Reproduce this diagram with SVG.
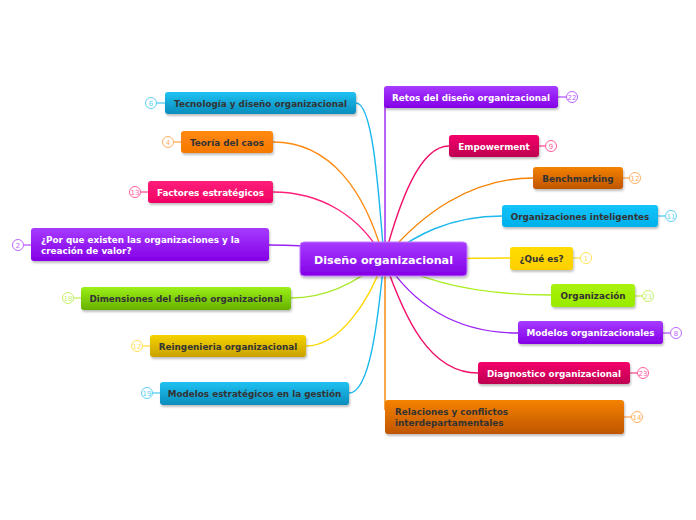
<svg xmlns="http://www.w3.org/2000/svg" width="696" height="520" viewBox="0 0 696 520">
<defs>
<linearGradient id="gPurple" x1="0" y1="0" x2="0" y2="1"><stop offset="0" stop-color="#a63bff"/><stop offset="1" stop-color="#8400e6"/></linearGradient>
<linearGradient id="gCyan" x1="0" y1="0" x2="0" y2="1"><stop offset="0" stop-color="#1fc2f2"/><stop offset="1" stop-color="#0a8cbc"/></linearGradient>
<linearGradient id="gCyan2" x1="0" y1="0" x2="0" y2="1"><stop offset="0" stop-color="#14c4fa"/><stop offset="1" stop-color="#00b0ea"/></linearGradient>
<linearGradient id="gOrange" x1="0" y1="0" x2="0" y2="1"><stop offset="0" stop-color="#ff8a10"/><stop offset="1" stop-color="#f57800"/></linearGradient>
<linearGradient id="gDOrange" x1="0" y1="0" x2="0" y2="1"><stop offset="0" stop-color="#f58200"/><stop offset="1" stop-color="#bf5500"/></linearGradient>
<linearGradient id="gPink" x1="0" y1="0" x2="0" y2="1"><stop offset="0" stop-color="#ff1f7a"/><stop offset="1" stop-color="#f00063"/></linearGradient>
<linearGradient id="gCrimson" x1="0" y1="0" x2="0" y2="1"><stop offset="0" stop-color="#f5006c"/><stop offset="1" stop-color="#bd0050"/></linearGradient>
<linearGradient id="gGreen" x1="0" y1="0" x2="0" y2="1"><stop offset="0" stop-color="#9cf016"/><stop offset="1" stop-color="#66b000"/></linearGradient>
<linearGradient id="gLime" x1="0" y1="0" x2="0" y2="1"><stop offset="0" stop-color="#aaf20a"/><stop offset="1" stop-color="#99ea00"/></linearGradient>
<linearGradient id="gGold" x1="0" y1="0" x2="0" y2="1"><stop offset="0" stop-color="#f5d200"/><stop offset="1" stop-color="#c9a200"/></linearGradient>
<linearGradient id="gYellow" x1="0" y1="0" x2="0" y2="1"><stop offset="0" stop-color="#ffdc00"/><stop offset="1" stop-color="#ffd000"/></linearGradient>
<filter id="sh" x="-10%" y="-30%" width="120%" height="170%"><feDropShadow dx="1" dy="2" stdDeviation="1.2" flood-color="#000" flood-opacity="0.25"/></filter>
</defs>
<style>
text{font-family:"DejaVu Sans","Verdana",sans-serif;font-weight:bold;}
.t{font-size:8.8px;text-anchor:middle;}
.l{font-size:8.8px;}
.d{fill:#333333;}
.w{fill:#ffffff;}
.n rect{filter:url(#sh);}
.c{fill:none;stroke-width:1.4;}
.b{fill:#ffffff;stroke-width:1;}
.bt{font-size:7px;font-weight:normal;text-anchor:middle;}
</style>
<rect width="696" height="520" fill="#ffffff"/>
<g id="connectors">
<path class="c" stroke="#1ab8ee" d="M356,103 C372,103 378,180 384,259"/>
<path class="c" stroke="#ff8a10" d="M273,142 C330,142 365,190 384,259"/>
<path class="c" stroke="#ff1f7a" d="M273,192 C320,192 360,215 384,259"/>
<path class="c" stroke="#9a20f5" d="M269,245 C320,245 340,250 384,259"/>
<path class="c" stroke="#a8e82a" d="M291,298 C330,298 360,280 384,259"/>
<path class="c" stroke="#ffd700" d="M306,346 C340,346 370,300 384,259"/>
<path class="c" stroke="#1ab8ee" d="M349,393 C370,393 378,320 384,259"/>
<path class="c" stroke="#9a20f5" d="M385,97 L385,259"/>
<path class="c" stroke="#f0106a" d="M449,146 C420,146 400,200 384,259"/>
<path class="c" stroke="#f58200" d="M533,178 C470,178 420,215 384,259"/>
<path class="c" stroke="#1ab8ee" d="M502,216 C450,216 415,235 384,259"/>
<path class="c" stroke="#ffd700" d="M510,258 L384,259"/>
<path class="c" stroke="#a8f01a" d="M551,295 C470,295 420,280 384,259"/>
<path class="c" stroke="#9a20f5" d="M518,333 C450,333 410,300 384,259"/>
<path class="c" stroke="#f0106a" d="M478,373 C430,373 405,320 384,259"/>
<path class="c" stroke="#f58200" d="M385,259 L385,410"/>
<path class="c" stroke="#5fd0f5" d="M157,103 H165"/>
<path class="c" stroke="#ffb060" d="M174,142 H181"/>
<path class="c" stroke="#ff5c9c" d="M141,192 H148"/>
<path class="c" stroke="#bb66ff" d="M24,245 H31"/>
<path class="c" stroke="#c6f06a" d="M74,298 H81"/>
<path class="c" stroke="#ffe25a" d="M143,346 H150"/>
<path class="c" stroke="#5fd0f5" d="M153,393 H160"/>
<path class="c" stroke="#bb66ff" d="M558,97 H566"/>
<path class="c" stroke="#ff5c9c" d="M539,146 H545"/>
<path class="c" stroke="#ffb060" d="M623,178 H629"/>
<path class="c" stroke="#5fd0f5" d="M658,216 H665"/>
<path class="c" stroke="#ffe25a" d="M573,258 H580"/>
<path class="c" stroke="#c6f06a" d="M635,296 H642"/>
<path class="c" stroke="#bb66ff" d="M663,333 H670"/>
<path class="c" stroke="#ff5c9c" d="M630,373 H637"/>
<path class="c" stroke="#ffb060" d="M624,417 H631"/>
</g>

<g id="center" class="n">
<rect x="300" y="242" width="167" height="34" rx="4" fill="url(#gPurple)" stroke="#c27bff" stroke-width="1"/>
<text x="383.5" y="263.5" class="w" style="font-size:11.2px;text-anchor:middle">Diseño organizacional</text>
</g>

<g id="n-tecnologia" class="n">
<rect x="165" y="92" width="191" height="22" rx="3" fill="url(#gCyan)"/>
<text x="260.5" y="106.5" class="t d">Tecnología y diseño organizacional</text>
<circle class="b" cx="151" cy="103" r="5.5" stroke="#5fd0f5"/><text x="151" y="105.5" class="bt" fill="#5fd0f5">6</text>
</g>
<g id="n-teoria" class="n">
<rect x="181" y="131" width="92" height="22" rx="3" fill="url(#gOrange)"/>
<text x="227" y="145.5" class="t d">Teoría del caos</text>
<circle class="b" cx="168" cy="142" r="5.5" stroke="#ffb060"/><text x="168" y="144.5" class="bt" fill="#ffb060">4</text>
</g>
<g id="n-factores" class="n">
<rect x="148" y="181" width="125" height="22" rx="3" fill="url(#gPink)"/>
<text x="210.5" y="195.5" class="t w">Factores estratégicos</text>
<circle class="b" cx="135" cy="192" r="5.5" stroke="#ff5c9c"/><text x="135" y="194.5" class="bt" fill="#ff5c9c">13</text>
</g>
<g id="n-porque" class="n">
<rect x="31" y="228" width="238" height="33" rx="3" fill="url(#gPurple)"/>
<text x="41" y="242.5" class="l w">¿Por que existen las organizaciones y la</text>
<text x="41" y="253.5" class="l w">creación de valor?</text>
<circle class="b" cx="18" cy="245" r="5.5" stroke="#bb66ff"/><text x="18" y="247.5" class="bt" fill="#bb66ff">2</text>
</g>
<g id="n-dimensiones" class="n">
<rect x="81" y="287" width="210" height="23" rx="3" fill="url(#gGreen)"/>
<text x="186" y="301.5" class="t d">Dimensiones del diseño organizacional</text>
<circle class="b" cx="68" cy="298" r="5.5" stroke="#c6f06a"/><text x="68" y="300.5" class="bt" fill="#c6f06a">18</text>
</g>
<g id="n-reingenieria" class="n">
<rect x="150" y="335" width="156" height="22" rx="3" fill="url(#gGold)"/>
<text x="228" y="349.5" class="t d">Reingenieria organizacional</text>
<circle class="b" cx="137" cy="346" r="5.5" stroke="#ffe25a"/><text x="137" y="348.5" class="bt" fill="#ffe25a">12</text>
</g>
<g id="n-modelosest" class="n">
<rect x="160" y="382" width="189" height="23" rx="3" fill="url(#gCyan)"/>
<text x="254.5" y="396.5" class="t d">Modelos estratégicos en la gestión</text>
<circle class="b" cx="147" cy="393" r="5.5" stroke="#5fd0f5"/><text x="147" y="395.5" class="bt" fill="#5fd0f5">19</text>
</g>

<g id="n-retos" class="n">
<rect x="384" y="86" width="174" height="22" rx="3" fill="url(#gPurple)"/>
<text x="471" y="100.5" class="t w">Retos del diseño organizacional</text>
<circle class="b" cx="572" cy="97" r="5.5" stroke="#bb66ff"/><text x="572" y="99.5" class="bt" fill="#bb66ff">22</text>
</g>
<g id="n-empowerment" class="n">
<rect x="449" y="135" width="90" height="22" rx="3" fill="url(#gCrimson)"/>
<text x="494" y="149.5" class="t w">Empowerment</text>
<circle class="b" cx="551" cy="146" r="5.5" stroke="#ff5c9c"/><text x="551" y="148.5" class="bt" fill="#ff5c9c">9</text>
</g>
<g id="n-benchmarking" class="n">
<rect x="533" y="167" width="90" height="22" rx="3" fill="url(#gDOrange)"/>
<text x="578" y="181.5" class="t d">Benchmarking</text>
<circle class="b" cx="635" cy="178" r="5.5" stroke="#ffb060"/><text x="635" y="180.5" class="bt" fill="#ffb060">12</text>
</g>
<g id="n-inteligentes" class="n">
<rect x="502" y="205" width="156" height="22" rx="3" fill="url(#gCyan2)"/>
<text x="580" y="219.5" class="t d">Organizaciones inteligentes</text>
<circle class="b" cx="671" cy="216" r="5.5" stroke="#5fd0f5"/><text x="671" y="218.5" class="bt" fill="#5fd0f5">11</text>
</g>
<g id="n-quees" class="n">
<rect x="510" y="247" width="63" height="23" rx="3" fill="url(#gYellow)"/>
<text x="541.5" y="261.5" class="t d">¿Qué es?</text>
<circle class="b" cx="586" cy="258" r="5.5" stroke="#ffe25a"/><text x="586" y="260.5" class="bt" fill="#ffe25a">1</text>
</g>
<g id="n-organizacion" class="n">
<rect x="551" y="284" width="84" height="23" rx="3" fill="url(#gLime)"/>
<text x="593" y="298.5" class="t d">Organización</text>
<circle class="b" cx="648" cy="296" r="5.5" stroke="#c6f06a"/><text x="648" y="298.5" class="bt" fill="#c6f06a">21</text>
</g>
<g id="n-modelosorg" class="n">
<rect x="518" y="321" width="145" height="23" rx="3" fill="url(#gPurple)"/>
<text x="590.5" y="335.5" class="t w">Modelos organizacionales</text>
<circle class="b" cx="676" cy="333" r="5.5" stroke="#bb66ff"/><text x="676" y="335.5" class="bt" fill="#bb66ff">8</text>
</g>
<g id="n-diagnostico" class="n">
<rect x="478" y="362" width="152" height="22" rx="3" fill="url(#gCrimson)"/>
<text x="554" y="376.5" class="t w">Diagnostico organizacional</text>
<circle class="b" cx="643" cy="373" r="5.5" stroke="#ff5c9c"/><text x="643" y="375.5" class="bt" fill="#ff5c9c">23</text>
</g>
<g id="n-relaciones" class="n">
<rect x="385" y="400" width="239" height="34" rx="3" fill="url(#gDOrange)"/>
<text x="395" y="414.5" class="l d">Relaciones y conflictos</text>
<text x="395" y="425.5" class="l d">interdepartamentales</text>
<circle class="b" cx="637" cy="417" r="5.5" stroke="#ffb060"/><text x="637" y="419.5" class="bt" fill="#ffb060">14</text>
</g>
</svg>
